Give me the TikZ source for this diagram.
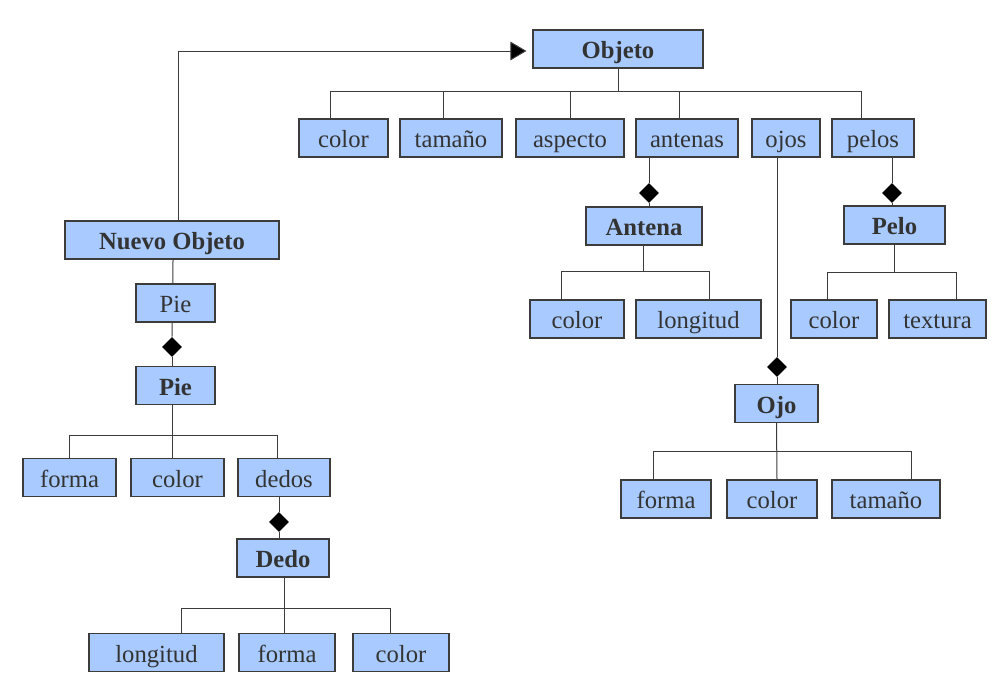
\documentclass[tikz,border=0pt]{standalone}
\usepackage{fontspec}
\setmainfont{Liberation Serif}
\usetikzlibrary{shapes.geometric,arrows.meta}
\definecolor{boxblue}{RGB}{168,202,255}
\definecolor{edgegray}{RGB}{60,60,60}
\definecolor{textgray}{RGB}{51,51,51}
\begin{document}
\begin{tikzpicture}[x=0.75pt,y=-0.75pt,
  box/.style={draw=edgegray,fill=boxblue,text=textgray,line width=0.9pt,
    font=\fontsize{18.5}{20}\selectfont,inner sep=0pt,minimum height=28.5pt,
    text height=16pt,text depth=1.5pt},
  clase/.style={box,font=\fontsize{18.5}{20}\selectfont\bfseries},
  diam/.style={diamond,fill=black,inner sep=0pt,minimum width=15pt,minimum height=15pt},
  link/.style={draw=edgegray,line width=0.75pt}]
\useasboundingbox (0,0) rectangle (1006,690);

% clase Objeto
\node[clase,minimum width=127.5pt] (objeto) at (618,49) {Objeto};
\node[box,minimum width=66.75pt] (color1) at (343.5,138) {color};
\node[box,minimum width=76.5pt] (tamano1) at (451,138) {tamaño};
\node[box,minimum width=81pt] (aspecto) at (570,138) {aspecto};
\node[box,minimum width=76.5pt] (antenas) at (687,138) {antenas};
\node[box,minimum width=51pt] (ojos) at (786,138) {ojos};
\node[box,minimum width=61.5pt] (pelos) at (873,138) {pelos};

% clase Antena
\node[diam] (dAntena) at (649,193) {};
\node[clase,minimum width=87pt] (antena) at (644,226) {Antena};
\node[box,minimum width=70.5pt] (color2) at (577,319) {color};
\node[box,minimum width=93.75pt] (longitud1) at (698.5,319) {longitud};

% clase Pelo
\node[diam] (dPelo) at (892,193) {};
\node[clase,minimum width=75.75pt] (pelo) at (894.5,225) {Pelo};
\node[box,minimum width=64.5pt] (color3) at (834,319) {color};
\node[box,minimum width=72.75pt] (textura) at (937.5,319) {textura};

% clase Ojo
\node[diam] (dOjo) at (777,367) {};
\node[clase,minimum width=62.25pt] (ojo) at (776.5,403.5) {Ojo};
\node[box,minimum width=67.5pt] (forma1) at (666,499) {forma};
\node[box,minimum width=67.5pt] (color4) at (772,499) {color};
\node[box,minimum width=81pt] (tamano2) at (886,499) {tamaño};

% clase Nuevo Objeto
\node[clase,minimum width=160.5pt] (nuevo) at (172,240) {Nuevo Objeto};
\node[box,minimum width=59.25pt] (pie1) at (175.5,303) {Pie};
\node[diam] (dPie) at (172,347) {};
\node[clase,minimum width=59.25pt] (pie2) at (175.5,385.5) {Pie};
\node[box,minimum width=69.75pt] (forma2) at (69.5,477.5) {forma};
\node[box,minimum width=69.75pt] (color5) at (177.5,477.5) {color};
\node[box,minimum width=69pt] (dedos) at (284,477.5) {dedos};

% clase Dedo
\node[diam] (dDedo) at (279,522) {};
\node[clase,minimum width=69pt] (dedo) at (283,558) {Dedo};
\node[box,minimum width=101.25pt] (longitud2) at (156.5,652.5) {longitud};
\node[box,minimum width=72pt] (forma3) at (287,652.5) {forma};
\node[box,minimum width=72pt] (color6) at (401,652.5) {color};

% herencia
\draw[link,-{Triangle[length=12pt,width=14pt,fill=black]},shorten >=4.5pt]
  ([xshift=4.5pt]nuevo.north) |- ([yshift=-1.5pt]objeto.west);

% atributos de Objeto
\path (objeto.south) ++(0,23) coordinate (busObjeto);
\draw[link] (objeto.south) -- (busObjeto);
\foreach \n/\s in {color1/-9.4pt,tamano1/-6pt,aspecto/0pt,antenas/-6pt,pelos/-9pt}
  \draw[link] (busObjeto) -| ([xshift=\s]\n.north);

% composiciones
\draw[link] ([xshift=-28.5pt]antenas.south) -- (dAntena.north);
\draw[link] (dAntena.south) -- (dAntena.south |- antena.north);
\draw[link] ([xshift=14.25pt]pelos.south) -- (dPelo.north);
\draw[link] (dPelo.south) -- (dPelo.south |- pelo.north);
\draw[link] ([xshift=-6.75pt]ojos.south) -- (dOjo.north);
\draw[link] (dOjo.south) -- (dOjo.south |- ojo.north);
\draw[link] ([xshift=-2.6pt]pie1.south) -- (dPie.north);
\draw[link] (dPie.south) -- (dPie.south |- pie2.north);
\draw[link] ([xshift=-3.75pt]dedos.south) -- (dDedo.north);
\draw[link] (dDedo.south) -- (dDedo.south |- dedo.north);
\draw[link] ([xshift=0.75pt]nuevo.south) -- ([xshift=-1.9pt]pie1.north);

% atributos de Antena
\path ([xshift=-0.75pt]antena.south) ++(0,26) coordinate (busAntena);
\draw[link] ([xshift=-0.75pt]antena.south) -- (busAntena);
\foreach \n/\s in {color2/-12pt,longitud1/7.9pt}
  \draw[link] (busAntena) -| ([xshift=\s]\n.north);

% atributos de Pelo
\path (pelo.south) ++(0,28) coordinate (busPelo);
\draw[link] (pelo.south) -- (busPelo);
\foreach \n/\s in {color3/-5.25pt,textura/14.6pt}
  \draw[link] (busPelo) -| ([xshift=\s]\n.north);

% atributos de Ojo
\path (ojo.south) ++(0,28) coordinate (busOjo);
\draw[link] (ojo.south) -- ([xshift=3.75pt]color4.north);
\foreach \n/\s in {forma1/-9.75pt,tamano2/18.75pt}
  \draw[link] (busOjo) -| ([xshift=\s]\n.north);

% atributos de Pie
\path ([xshift=-2.6pt]pie2.south) ++(0,30) coordinate (busPie);
\draw[link] ([xshift=-2.6pt]pie2.south) -- ([xshift=-4.1pt]color5.north);
\foreach \n/\s in {forma2/0pt,dedos/-5.25pt}
  \draw[link] (busPie) -| ([xshift=\s]\n.north);

% atributos de Dedo
\path ([xshift=0.75pt]dedo.south) ++(0,31) coordinate (busDedo);
\draw[link] ([xshift=0.75pt]dedo.south) -- ([xshift=-2.25pt]forma3.north);
\foreach \n/\s in {longitud2/19.1pt,color6/-8.25pt}
  \draw[link] (busDedo) -| ([xshift=\s]\n.north);

\end{tikzpicture}
\end{document}
